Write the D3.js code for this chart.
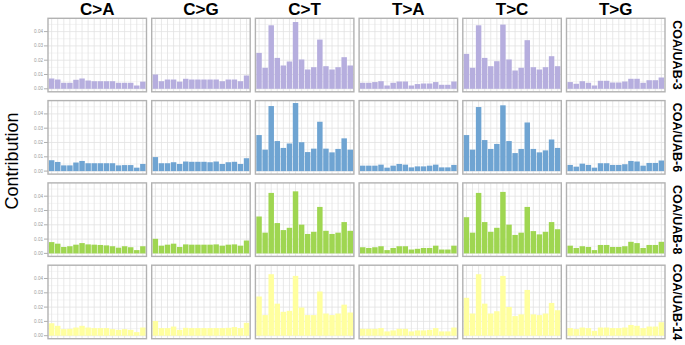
<!DOCTYPE html>
<html lang="en">
<head>
<meta charset="UTF-8">
<title>Mutational profiles</title>
<script src="https://d3js.org/d3.v7.min.js"></script>
<style>
  body { margin: 0; background: #fff; }
  svg text { font-family: "Liberation Sans", Arial, sans-serif; }
</style>
</head>
<body>
<div id="chart"></div>
<script>
// facet columns / rows
var types = ["C>A", "C>G", "C>T", "T>A", "T>C", "T>G"];
var samples = ["COA/UAB-3", "COA/UAB-6", "COA/UAB-8", "COA/UAB-14"];
var colors = ["#b6aede", "#6fa4d2", "#9fd651", "#ffff9f"];
var yTicks = [0, 0.01, 0.02, 0.03, 0.04];
var yMinor = [0.005, 0.015, 0.025, 0.035, 0.045];

// 16 trinucleotide contexts per mutation type, in the order of types
var uab3 = [
  .0072,.0065,.0042,.0042,.0063,.0072,.0058,.0053,.0053,.0053,.0053,.0042,.0042,.0042,.0023,.0050,
  .0100,.0053,.0065,.0065,.0050,.0070,.0065,.0065,.0065,.0065,.0065,.0053,.0065,.0065,.0053,.0093,
  .0251,.0147,.0444,.0216,.0163,.0191,.0467,.0205,.0135,.0151,.0344,.0158,.0135,.0151,.0221,.0163,
  .0042,.0042,.0047,.0053,.0023,.0042,.0051,.0051,.0023,.0033,.0037,.0037,.0047,.0028,.0028,.0051,
  .0244,.0147,.0444,.0216,.0158,.0193,.0449,.0205,.0128,.0147,.0340,.0151,.0135,.0151,.0228,.0158,
  .0047,.0035,.0053,.0042,.0023,.0056,.0056,.0044,.0044,.0051,.0070,.0070,.0042,.0060,.0060,.0079
];
var uab6 = [
  .0076,.0064,.0040,.0040,.0060,.0071,.0055,.0055,.0055,.0055,.0055,.0040,.0042,.0042,.0024,.0050,
  .0098,.0055,.0055,.0062,.0050,.0067,.0065,.0065,.0065,.0062,.0067,.0050,.0062,.0065,.0050,.0090,
  .0252,.0150,.0455,.0210,.0162,.0193,.0476,.0202,.0133,.0157,.0345,.0157,.0131,.0155,.0229,.0150,
  .0038,.0038,.0038,.0045,.0024,.0038,.0050,.0045,.0026,.0033,.0033,.0038,.0045,.0026,.0026,.0043,
  .0252,.0150,.0448,.0217,.0155,.0190,.0460,.0210,.0126,.0155,.0340,.0155,.0131,.0145,.0221,.0162,
  .0043,.0031,.0052,.0043,.0024,.0055,.0055,.0043,.0043,.0048,.0071,.0067,.0038,.0057,.0057,.0074
];
var uab8 = [
  .0079,.0068,.0045,.0050,.0061,.0072,.0063,.0061,.0059,.0056,.0050,.0040,.0050,.0043,.0023,.0050,
  .0102,.0054,.0061,.0068,.0045,.0063,.0061,.0061,.0061,.0061,.0063,.0054,.0061,.0063,.0054,.0090,
  .0258,.0145,.0423,.0212,.0163,.0179,.0434,.0201,.0136,.0151,.0325,.0158,.0136,.0145,.0219,.0158,
  .0043,.0038,.0043,.0050,.0023,.0038,.0050,.0050,.0027,.0032,.0038,.0038,.0054,.0027,.0027,.0054,
  .0253,.0145,.0423,.0219,.0151,.0179,.0430,.0201,.0129,.0145,.0325,.0156,.0133,.0151,.0219,.0169,
  .0054,.0038,.0050,.0045,.0023,.0059,.0059,.0045,.0045,.0050,.0081,.0072,.0038,.0059,.0059,.0081
];
var uab14 = [
  .0087,.0069,.0046,.0048,.0057,.0069,.0057,.0053,.0053,.0053,.0046,.0041,.0046,.0041,.0025,.0057,
  .0103,.0053,.0053,.0064,.0041,.0055,.0053,.0053,.0053,.0053,.0053,.0053,.0055,.0060,.0053,.0090,
  .0274,.0144,.0430,.0224,.0167,.0174,.0418,.0197,.0144,.0144,.0309,.0155,.0144,.0155,.0217,.0162,
  .0048,.0048,.0048,.0053,.0030,.0037,.0048,.0048,.0030,.0037,.0037,.0041,.0053,.0030,.0030,.0057,
  .0265,.0155,.0430,.0224,.0155,.0171,.0418,.0201,.0137,.0149,.0320,.0149,.0144,.0155,.0229,.0178,
  .0053,.0046,.0057,.0053,.0034,.0057,.0057,.0053,.0053,.0057,.0075,.0069,.0053,.0064,.0064,.0094
];
var profiles = [uab3, uab6, uab8, uab14];

// layout
var W = 685, H = 345;
var panelW = 98.5, panelH = 73.5;
var colX = d3.range(types.length).map(function(i) { return 48 + i * 103.7; });
var rowY = d3.range(samples.length).map(function(i) { return 18.3 + i * 82.3; });

var svg = d3.select("#chart").append("svg")
    .attr("width", W)
    .attr("height", H);

var x = d3.scaleLinear().domain([0.4, 16.6]).range([0, panelW]);
var y = d3.scaleLinear().domain([-0.0021, 0.0493]).range([panelH, 0]);
var ctx = d3.range(1, 17);

// column titles
svg.selectAll(".coltitle")
  .data(types)
  .enter().append("text")
    .attr("x", function(d, i) { return colX[i] + panelW / 2; })
    .attr("y", 15)
    .attr("text-anchor", "middle")
    .attr("font-size", 17)
    .attr("font-weight", "bold")
    .text(function(d) { return d; });

// y axis title
svg.append("text")
    .attr("transform", "translate(18,161) rotate(-90)")
    .attr("text-anchor", "middle")
    .attr("font-size", 18)
    .text("Contribution");

samples.forEach(function(s, r) {
  // row strip label
  svg.append("text")
      .attr("transform", "translate(673," + (rowY[r] + panelH / 2) + ") rotate(90)")
      .attr("text-anchor", "middle")
      .attr("font-size", 12.5)
      .attr("font-weight", "bold")
      .text(s);

  // y axis on left column
  var ax = svg.append("g")
      .attr("transform", "translate(" + colX[0] + "," + rowY[r] + ")");
  ax.selectAll("line")
    .data(yTicks)
    .enter().append("line")
      .attr("x1", -4).attr("x2", 0)
      .attr("y1", function(d) { return y(d); })
      .attr("y2", function(d) { return y(d); })
      .attr("stroke", "#9a9a9a")
      .attr("stroke-width", 0.8);
  ax.selectAll("text")
    .data(yTicks)
    .enter().append("text")
      .attr("x", -5)
      .attr("y", function(d) { return y(d) + 1.6; })
      .attr("text-anchor", "end")
      .attr("font-size", 4.6)
      .attr("fill", "#9a9a9a")
      .text(function(d) { return d3.format(".2f")(d); });

  types.forEach(function(t, c) {
    var g = svg.append("g")
        .attr("transform", "translate(" + colX[c] + "," + rowY[r] + ")");
    var vals = profiles[r].slice(c * 16, c * 16 + 16);

    g.append("rect")
        .attr("width", panelW).attr("height", panelH)
        .attr("fill", "#fff");

    // grid
    g.selectAll(".minor")
      .data(yMinor)
      .enter().append("line")
        .attr("x1", 0).attr("x2", panelW)
        .attr("y1", function(d) { return y(d); })
        .attr("y2", function(d) { return y(d); })
        .attr("stroke", "#ececec")
        .attr("stroke-width", 0.6);
    g.selectAll(".major")
      .data(yTicks)
      .enter().append("line")
        .attr("x1", 0).attr("x2", panelW)
        .attr("y1", function(d) { return y(d); })
        .attr("y2", function(d) { return y(d); })
        .attr("stroke", "#e2e2e2")
        .attr("stroke-width", 0.8);
    g.selectAll(".vgrid")
      .data(ctx)
      .enter().append("line")
        .attr("x1", function(d) { return x(d); })
        .attr("x2", function(d) { return x(d); })
        .attr("y1", 0).attr("y2", panelH)
        .attr("stroke", "#e2e2e2")
        .attr("stroke-width", 0.8);

    // bars
    g.selectAll(".bar")
      .data(vals)
      .enter().append("rect")
        .attr("x", function(d, i) { return x(i + 1 - 0.45); })
        .attr("width", x(0.9) - x(0))
        .attr("y", function(d) { return y(d); })
        .attr("height", function(d) { return y(0) - y(d); })
        .attr("fill", colors[r]);

    // panel border
    g.append("rect")
        .attr("width", panelW).attr("height", panelH)
        .attr("fill", "none")
        .attr("stroke", "#b2b2b2")
        .attr("stroke-width", 1.4);
  });
});
</script>
</body>
</html>
